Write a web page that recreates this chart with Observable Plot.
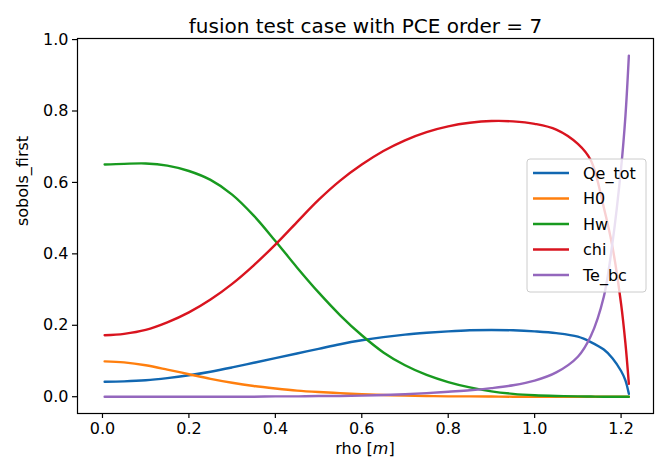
<!DOCTYPE html>
<html><head><meta charset="utf-8">
<script src="https://cdn.jsdelivr.net/npm/d3@7"></script>
<script src="https://cdn.jsdelivr.net/npm/@observablehq/plot@0.6"></script>
<style>body{margin:0;background:#fff} svg{font-family:"DejaVu Sans",sans-serif}</style>
</head><body><div id="chart"></div>
<script>
const rho    = [0.005,0.05,0.1,0.15,0.2,0.25,0.3,0.35,0.4,0.45,0.5,0.55,0.6,0.65,0.7,0.75,0.8,0.85,0.9,0.95,1.0,1.05,1.1,1.13,1.16,1.18,1.2,1.21,1.218];
const Qe_tot = [0.042,0.043,0.046,0.052,0.060,0.070,0.082,0.095,0.108,0.121,0.134,0.147,0.158,0.167,0.174,0.179,0.183,0.186,0.187,0.186,0.183,0.178,0.168,0.153,0.132,0.108,0.072,0.046,0.008];
const H0     = [0.099,0.096,0.088,0.076,0.063,0.050,0.039,0.030,0.023,0.017,0.013,0.010,0.007,0.005,0.003,0.002,0.001,0.001,0.0005,0,0,0,0,0,0,0,0,0,0];
const Hw     = [0.650,0.652,0.653,0.647,0.632,0.607,0.566,0.507,0.436,0.362,0.292,0.228,0.172,0.124,0.088,0.061,0.041,0.026,0.015,0.008,0.004,0.002,0.001,0.0005,0,0,0,0,0];
const chi    = [0.172,0.176,0.187,0.208,0.236,0.272,0.316,0.368,0.426,0.489,0.551,0.605,0.650,0.688,0.718,0.741,0.757,0.767,0.772,0.771,0.764,0.748,0.708,0.662,0.530,0.420,0.260,0.150,0.036];
const Te_bc  = [0,0,0,0,0,0,0,0,0.001,0.001,0.002,0.002,0.003,0.005,0.007,0.010,0.014,0.018,0.024,0.032,0.045,0.068,0.112,0.170,0.280,0.430,0.640,0.785,0.955];

const seriesNames = ["Qe_tot","H0","Hw","chi","Te_bc"];
const seriesValues = [Qe_tot, H0, Hw, chi, Te_bc];
const seriesColors = ["#1167b1","#ff7f0e","#189a1f","#d9141f","#9467bd"];
const xTicks = [0,0.2,0.4,0.6,0.8,1.0,1.2];
const yTicks = [0,0.2,0.4,0.6,0.8,1.0];
const title = "fusion test case with PCE order = 7";
const yLabel = "sobols_first";

const data = seriesNames.flatMap((s,i)=> rho.map((r,j)=>({rho:r, value:seriesValues[i][j], series:s})));

const plot = Plot.plot({
  width:662, height:465,
  marginLeft:77, marginRight:9, marginTop:38, marginBottom:52,
  style:{fontFamily:"DejaVu Sans", fontSize:"16px", background:"white", color:"black", overflow:"visible"},
  x:{domain:[-0.0578,1.275]},
  y:{domain:[-0.047,1.003]},
  color:{domain:seriesNames, range:seriesColors},
  marks:[
    Plot.line(data,{x:"rho", y:"value", stroke:"series", strokeWidth:2.4, curve:"catmull-rom"}),
    Plot.frame({stroke:"black", strokeWidth:1.2}),
    Plot.axisX({ticks:xTicks, tickFormat:d=>d.toFixed(1), tickSize:5, tickPadding:4, strokeWidth:1.2, label:null, fontSize:16}),
    Plot.axisY({ticks:yTicks, tickFormat:d=>d.toFixed(1), tickSize:5, tickPadding:4, strokeWidth:1.2, label:null, fontSize:16}),
    Plot.text([title],{frameAnchor:"top", dy:-20, fontSize:20, fill:"black"}),
    Plot.text([yLabel],{frameAnchor:"left", dx:-55, rotate:-90, fontSize:16, fill:"black"})
  ]
});
document.getElementById("chart").appendChild(plot);

const svg = d3.select(plot);
// x axis label with italic unit
const xl = svg.append("text").attr("x",365).attr("y",449).attr("text-anchor","middle")
  .attr("dominant-baseline","middle").attr("font-size",16).attr("fill","black");
xl.append("tspan").text("rho [");
xl.append("tspan").attr("font-style","italic").text("m");
xl.append("tspan").text("]");

// legend
const lg = svg.append("g");
lg.append("rect").attr("x",527).attr("y",159).attr("width",119).attr("height",133).attr("rx",3)
  .attr("fill","white").attr("fill-opacity",0.8).attr("stroke","#cccccc");
seriesNames.forEach((s,i)=>{
  const y = 173 + i*25.5;
  lg.append("line").attr("x1",533).attr("x2",569).attr("y1",y).attr("y2",y)
    .attr("stroke",seriesColors[i]).attr("stroke-width",2.4);
  lg.append("text").attr("x",583).attr("y",y).attr("dominant-baseline","central")
    .attr("text-anchor","start").attr("font-size",16).attr("fill","black").text(s);
});
</script>
</body></html>
